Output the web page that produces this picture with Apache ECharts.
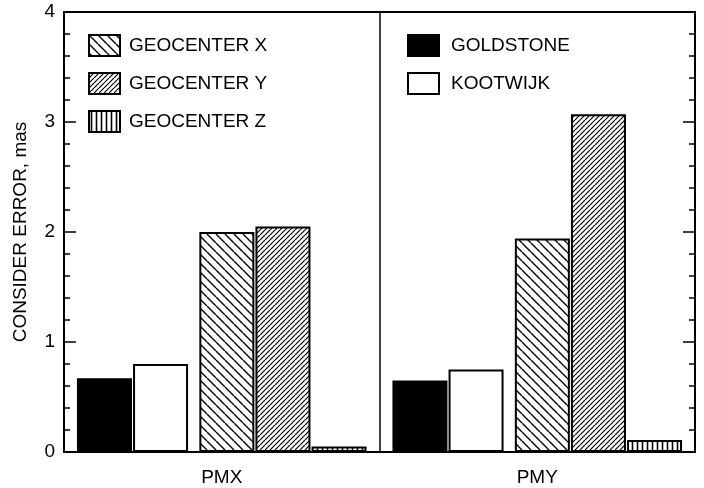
<!DOCTYPE html>
<html>
<head>
<meta charset="utf-8">
<script src="https://cdn.jsdelivr.net/npm/echarts@6/dist/echarts.min.js"></script>
<style>
html,body{margin:0;padding:0;background:#fff;}
#c{width:704px;height:488px;}
</style>
</head>
<body>
<div id="c"></div>
<script>
// ---- data ----
var categories = ['PMX', 'PMY'];
var goldstone = [0.67, 0.65];
var kootwijk = [0.80, 0.75];
var geocenterX = [2.00, 1.94];
var geocenterY = [2.05, 3.07];
var geocenterZ = [0.05, 0.11];
var yTicks = [0, 1, 2, 3, 4];

function makePattern(kind, s, lw) {
  var c = document.createElement('canvas');
  c.width = s; c.height = s;
  var g = c.getContext('2d');
  g.fillStyle = '#fff';
  g.fillRect(0, 0, s, s);
  g.strokeStyle = '#000';
  g.lineWidth = lw;
  g.beginPath();
  if (kind === 'back') {
    for (var k = -1; k <= 1; k++) { g.moveTo(k * s, 0); g.lineTo(k * s + s, s); }
  } else if (kind === 'fwd') {
    for (var k2 = -1; k2 <= 1; k2++) { g.moveTo(k2 * s + s, 0); g.lineTo(k2 * s, s); }
  } else {
    g.moveTo(s / 2, 0); g.lineTo(s / 2, s);
  }
  g.stroke();
  return { image: c, repeat: 'repeat' };
}

var patX = makePattern('back', 9, 1.4);
var patY = makePattern('fwd', 5, 1.2);
var patZ = makePattern('vert', 5, 1.6);

var font = '"Liberation Sans", Arial, Helvetica, sans-serif';
var chart = echarts.init(document.getElementById('c'), null, { renderer: 'canvas' });

function barSeries(name, data, color) {
  return {
    name: name, type: 'bar', data: data, barWidth: 55, barGap: '2%',
    itemStyle: { color: color, borderColor: '#000', borderWidth: 2 },
    emphasis: { disabled: true }, silent: true, animation: false
  };
}

var series = [
  barSeries('GOLDSTONE', goldstone, '#000'),
  barSeries('KOOTWIJK', kootwijk, '#fff'),
  { name: 'spacer', type: 'bar', data: ['-', '-'], barWidth: 10, barGap: '2%', itemStyle: { color: 'transparent' }, silent: true },
  barSeries('GEOCENTER X', geocenterX, patX),
  barSeries('GEOCENTER Y', geocenterY, patY),
  barSeries('GEOCENTER Z', geocenterZ, patZ)
];

function legendCfg(left, data, textPad) {
  return {
    orient: 'vertical', icon: 'rect', itemWidth: 31, itemHeight: 21, itemGap: 15,
    left: left, top: 34, padding: 0, data: data,
    selectedMode: false,
    itemStyle: { borderColor: '#000', borderWidth: 2 },
    textStyle: { fontFamily: font, fontSize: 19, lineHeight: 21, color: '#000', padding: [0, 0, 0, textPad] }
  };
}

chart.setOption({
  animation: false,
  backgroundColor: '#fff',
  textStyle: { fontFamily: font },
  grid: { left: 64, right: 9, top: 12, bottom: 36, show: true, borderColor: '#000', borderWidth: 2, backgroundColor: 'transparent' },
  legend: [
    legendCfg(88, ['GEOCENTER X', 'GEOCENTER Y', 'GEOCENTER Z'], 4),
    legendCfg(407, ['GOLDSTONE', 'KOOTWIJK'], 7)
  ],
  xAxis: {
    type: 'category', data: categories,
    axisLine: { lineStyle: { color: '#000', width: 2 } },
    axisTick: { show: false },
    axisLabel: { color: '#000', fontSize: 19, fontFamily: font, margin: 16 },
    splitLine: { show: true, lineStyle: { color: '#000', width: 1.5 } }
  },
  yAxis: [
    {
      type: 'value', min: yTicks[0], max: yTicks[yTicks.length - 1], interval: 1,
      name: 'CONSIDER ERROR, mas', nameLocation: 'middle', nameGap: 34, nameRotate: 90,
      nameTextStyle: { color: '#000', fontSize: 19, fontFamily: font },
      axisLine: { show: true, lineStyle: { color: '#000', width: 2 } },
      axisTick: { show: true, inside: true, length: 12, lineStyle: { color: '#000', width: 1.5 } },
      minorTick: { show: true, splitNumber: 5, length: 6, lineStyle: { color: '#000', width: 1.5 } },
      axisLabel: { color: '#000', fontSize: 19, fontFamily: font, margin: 9 },
      splitLine: { show: false }
    },
    {
      type: 'value', position: 'right', min: yTicks[0], max: yTicks[yTicks.length - 1], interval: 1,
      axisLine: { show: true, lineStyle: { color: '#000', width: 2 } },
      axisTick: { show: true, inside: true, length: 12, lineStyle: { color: '#000', width: 1.5 } },
      minorTick: { show: true, splitNumber: 5, length: 6, lineStyle: { color: '#000', width: 1.5 } },
      axisLabel: { show: false },
      splitLine: { show: false }
    }
  ],
  series: series
});
</script>
</body>
</html>
